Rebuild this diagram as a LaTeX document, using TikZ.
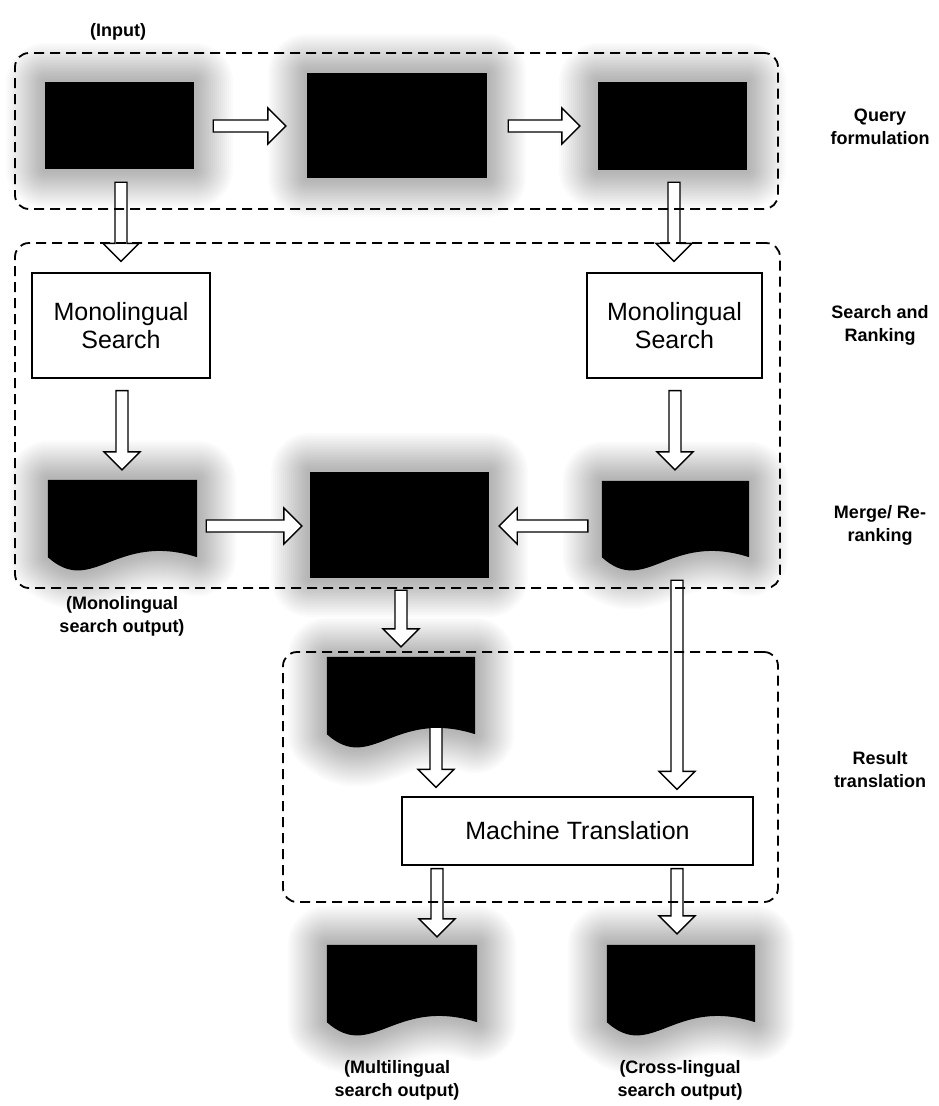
\documentclass[tikz,border=0pt]{standalone}
\usepackage{fontspec}
\setmainfont{Liberation Sans}
\usetikzlibrary{calc}

% arrow geometry: shaft half-width, head half-width, head length
\newcommand\fatShaft{6pt}
\newcommand\fatHead{18pt}
\newcommand\fatLen{18pt}

% hollow block arrow from #1 to the tip #2
\newcommand\fatarrow[2]{%
  \coordinate (fatS) at (#1);
  \coordinate (fatE) at (#2);
  \coordinate (fatH) at ($(fatE)!\fatLen!(fatS)$);
  \draw[fatarrow]
       ($(fatS)!\fatShaft!90:(fatE)$)
    -- ($(fatH)!\fatShaft!90:(fatE)$)
    -- ($(fatH)!\fatHead!90:(fatE)$)
    -- (fatE)
    -- ($(fatH)!\fatHead!-90:(fatE)$)
    -- ($(fatH)!\fatShaft!-90:(fatE)$)
    -- ($(fatS)!\fatShaft!-90:(fatE)$)
    -- cycle;}

% black document shape with wavy bottom, filling the node #1
\newcommand\docfill[1]{%
  \path[fill=black, halo] let \p1=(#1.south west), \p2=(#1.north east) in
    (\x1,\y2) -- (\x2,\y2) -- (\x2,\y1)
    .. controls (0.55*\x1+0.45*\x2,\y1+26pt) and (0.7*\x1+0.3*\x2,\y1-40pt) ..
    (\x1,\y1) -- cycle;}

\tikzset{
  % soft grey glow: stacked translucent strokes of growing width
  glow/.style={preaction={draw=black, draw opacity=0.017, fill opacity=0,
      line width=#1, line join=round}},
  halo/.style={glow=78pt, glow=74pt, glow=70pt, glow=66pt, glow=62pt,
      glow=58pt, glow=54pt, glow=50pt, glow=46pt, glow=42pt, glow=38pt,
      glow=34pt, glow=30pt, glow=26pt, glow=22pt, glow=18pt, glow=14pt,
      glow=10pt, glow=6pt},
  blackbox/.style={rectangle, fill=black, draw=none, inner sep=0pt, halo},
  docnode/.style={rectangle, draw=none, inner sep=0pt},
  textbox/.style={rectangle, draw=black, line width=1.3pt, fill=white,
      inner sep=0pt, align=center, font=\fontsize{25}{28}\selectfont},
  group/.style={rectangle, draw=black, dash pattern=on 10pt off 6pt,
      line width=1.8pt, rounded corners=14pt, inner sep=0pt},
  lbl/.style={font=\bfseries\fontsize{18}{23}\selectfont, align=center,
      inner sep=0pt},
  fatarrow/.style={draw=black, fill=white, line width=1.4pt, line join=miter},
}

\begin{document}
\begin{tikzpicture}[x=1pt, y=-1pt]
\useasboundingbox[fill=white] (0,0) rectangle (938,1106);

% query formulation row
\node[blackbox, minimum width=149pt, minimum height=87pt]  (q1) at (119.5,125.5) {};
\node[blackbox, minimum width=180pt, minimum height=105pt] (q2) at (397,125.5) {};
\node[blackbox, minimum width=149pt, minimum height=88pt]  (q3) at (672.5,126) {};

% search and ranking
\node[textbox, minimum width=178pt, minimum height=105pt] (ms1) at (121,325.5) {Monolingual\\Search};
\node[textbox, minimum width=175pt, minimum height=105pt] (ms2) at (674.5,325.5) {Monolingual\\Search};

% search outputs and merge
\node[docnode, minimum width=149pt, minimum height=77pt] (d1) at (122.5,518.5) {};
\docfill{d1}
\node[docnode, minimum width=147pt, minimum height=76pt] (d2) at (675.5,519) {};
\docfill{d2}
\node[blackbox, minimum width=179pt, minimum height=106pt] (mg) at (399.5,525) {};

% result translation
\node[docnode, minimum width=148pt, minimum height=77pt] (d3) at (401,695.5) {};
\docfill{d3}
\node[textbox, minimum width=351pt, minimum height=68pt] (mt) at (577.5,831) {Machine Translation};

% final outputs
\node[docnode, minimum width=150pt, minimum height=77pt] (d4) at (402,983.5) {};
\docfill{d4}
\node[docnode, minimum width=148pt, minimum height=77pt] (d5) at (681,983.5) {};
\docfill{d5}

% block arrows
\fatarrow{$(q1.east)+(19,0.5)$}{$(q2.west)+(-21,0.5)$}
\fatarrow{$(q2.east)+(21,0.5)$}{$(q3.west)+(-18,0)$}
\fatarrow{$(q1.south)+(1.5,13)$}{$(ms1.north)+(0,-11)$}
\fatarrow{$(q3.south)+(1.5,12)$}{$(ms2.north)+(-0.5,-11)$}
\fatarrow{$(ms1.south)+(1,12)$}{$(d1.north)+(-0.5,-10)$}
\fatarrow{$(ms2.south)+(0.5,12)$}{$(d2.north)+(-0.5,-11)$}
\fatarrow{$(d1.east)+(9,7.5)$}{$(mg.west)+(-8,1)$}
\fatarrow{$(d2.west)+(-14,7)$}{$(mg.east)+(10,1)$}
\fatarrow{$(mg.south)+(1.5,12)$}{$(d3.north)+(0,-10)$}
\fatarrow{$(d2.south)+(1.5,23)$}{$(mt.north)+(99.5,-7)$}
\fatarrow{$(d3.south)+(35,-7)$}{$(mt.north)+(-141.5,-9)$}
\fatarrow{$(mt.south)+(-140.5,3)$}{$(d4.north)+(35,-8)$}
\fatarrow{$(mt.south)+(99.5,3)$}{$(d5.north)+(-4,-11)$}

% dashed stage frames
\node[group, minimum width=763pt, minimum height=156pt] (g1) at (396.5,131) {};
\node[group, minimum width=765pt, minimum height=345pt] (g2) at (397.5,415.5) {};
\node[group, minimum width=495pt, minimum height=250pt] (g3) at (530.5,777) {};

% labels
\node[lbl] (linput) at (118,32) {(Input)};
\node[lbl] (lmono) at (122,616) {(Monolingual\\search output)};
\node[lbl] (lmulti) at (397,1080) {(Multilingual\\search output)};
\node[lbl] (lcross) at (680,1080) {(Cross-lingual\\search output)};
\node[lbl] (s1) at (880,127) {Query\\formulation};
\node[lbl] (s2) at (880,325) {Search and\\Ranking};
\node[lbl] (s3) at (880,525) {Merge/ Re-\\ranking};
\node[lbl] (s4) at (880,770) {Result\\translation};
\end{tikzpicture}
\end{document}
